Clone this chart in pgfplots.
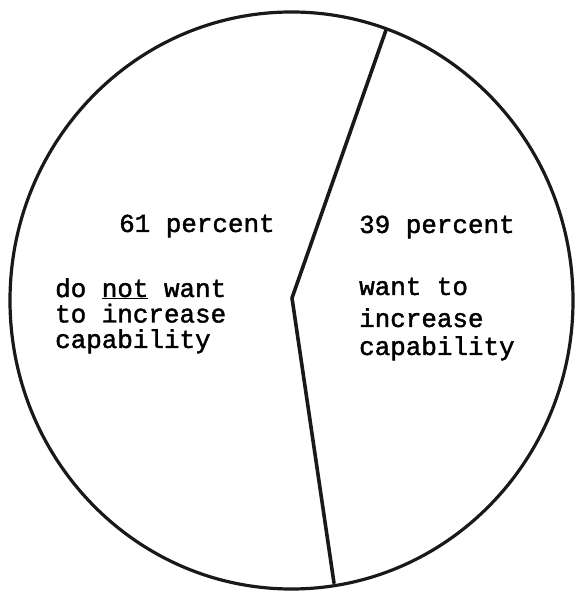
\documentclass[border=0pt]{standalone}
\usepackage{pgfplots}
\pgfplotsset{compat=1.18}
\usepackage{fontspec}
\newfontfamily\typewriter{Liberation Mono}[FakeBold=1.6]

\begin{document}
\begin{tikzpicture}
\begin{axis}[
  width=577bp, height=592bp, scale only axis,
  xmin=0, xmax=577, ymin=0, ymax=592,
  hide axis, clip=false,
]
% outline of the pie
\draw[line width=3.2pt, black!90] (axis cs:291.5,291.5) ellipse [x radius=281.5, y radius=288.5];
% boundary between the 61 and 39 percent slices
\addplot[black!90, line width=3.6pt, line join=round, line cap=round]
  coordinates {(386,562) (292,294) (334,9)};
\path (axis cs:0,0) rectangle (axis cs:577,592);

\begin{scope}[every node/.style={anchor=base west, inner sep=0pt,
    font=\typewriter\fontsize{26}{26}\selectfont}]
\node at (axis cs:119,360) {61 percent};
\node at (axis cs:55,295) {do \underline{not} want};
\node at (axis cs:55,269.5) {to increase};
\node at (axis cs:55,244) {capability};
\node at (axis cs:359,359) {39 percent};
\node at (axis cs:359,297) {want to};
\node at (axis cs:359,265) {increase};
\node at (axis cs:359,237) {capability};
\end{scope}
\end{axis}
\end{tikzpicture}
\end{document}
